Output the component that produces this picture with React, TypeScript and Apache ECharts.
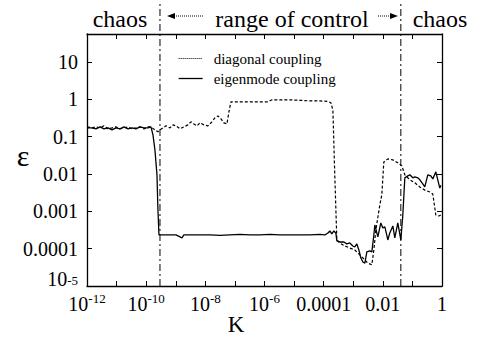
import React, { useEffect, useRef } from "react";
import * as echarts from "echarts";

// K values and epsilon values
const kEigen = [
  1e-12, 1.48e-12, 2.01e-12, 2.75e-12, 3.75e-12, 5.12e-12, 7.0e-12, 9.5e-12, 1.3e-11, 1.78e-11,
  2.43e-11, 3.31e-11, 4.52e-11, 6.18e-11, 8.43e-11, 1.15e-10, 1.45e-10, 1.7e-10, 1.98e-10, 2.32e-10,
  2.5e-10, 2.71e-10, 4.32e-10, 6.37e-10, 1.02e-9, 1.39e-9, 1.62e-9, 1.89e-9, 3.02e-9, 6.57e-9,
  1.43e-8, 3.11e-8, 6.78e-8, 1.48e-7, 3.21e-7, 7.0e-7, 1.52e-6, 3.31e-6, 7.21e-6, 1.57e-5,
  3.42e-5, 7.45e-5, 1.1e-4, 1.39e-4, 1.62e-4, 1.89e-4, 2.21e-4, 2.58e-4, 2.79e-4, 3.52e-4,
  4.81e-4, 6.08e-4, 7.67e-4, 9.69e-4, 1.13e-3, 1.32e-3, 1.55e-3, 1.81e-3, 2.11e-3, 2.47e-3,
  2.88e-3, 3.64e-3, 4.25e-3, 4.97e-3, 5.37e-3, 6.78e-3, 8.55e-3, 1.0e-2, 1.17e-2, 1.48e-2,
  1.72e-2, 2.18e-2, 2.54e-2, 3.21e-2, 4.06e-2, 4.74e-2, 5.54e-2, 7.0e-2, 8.17e-2, 0.103,
  0.121, 0.152, 0.178, 0.224, 0.262, 0.331, 0.419, 0.489, 0.618, 0.721, 0.843, 0.91,
];
const epsEigen = [
  0.172, 0.172, 0.162, 0.183, 0.162, 0.172, 0.152, 0.172, 0.162, 0.183,
  0.162, 0.172, 0.162, 0.183, 0.172, 0.172, 0.183, 0.112, 0.044, 0.0095,
  0.00109, 2.33e-4, 2.33e-4, 2.33e-4, 2.33e-4, 2.06e-4, 1.94e-4, 2.33e-4, 2.33e-4, 2.33e-4,
  2.33e-4, 2.26e-4, 2.33e-4, 2.4e-4, 2.33e-4, 2.33e-4, 2.4e-4, 2.33e-4, 2.33e-4, 2.33e-4,
  2.33e-4, 2.4e-4, 2.33e-4, 2.64e-4, 2.98e-4, 2.48e-4, 2.98e-4, 2.64e-4, 1.61e-4, 1.51e-4,
  1.51e-4, 1.34e-4, 1.42e-4, 1.18e-4, 1.11e-4, 1.34e-4, 9.2e-5, 5.6e-5, 4.4e-5, 4.1e-5,
  8.2e-5, 8.7e-5, 8.2e-5, 2.33e-4, 4.32e-4, 2.06e-4, 4.89e-4, 3.59e-4, 3.82e-4, 1.71e-4,
  2.64e-4, 4.06e-4, 1.94e-4, 4.89e-4, 1.71e-4, 8.0e-4, 0.0079, 0.0089, 0.0095, 0.0079,
  0.0084, 0.0079, 0.007, 0.0054, 0.0045, 0.0095, 0.0089, 0.0074, 0.0114, 0.007, 0.0042, 0.005,
];

const kDiag = [
  1e-12, 1.48e-12, 2.01e-12, 2.75e-12, 3.75e-12, 5.12e-12, 7.0e-12, 9.5e-12, 1.3e-11, 1.78e-11,
  2.43e-11, 3.31e-11, 4.52e-11, 6.18e-11, 8.43e-11, 1.15e-10, 1.45e-10, 1.98e-10, 2.5e-10, 2.93e-10,
  3.7e-10, 4.67e-10, 6.37e-10, 8.04e-10, 1.02e-9, 1.39e-9, 1.89e-9, 2.58e-9, 3.26e-9, 4.12e-9,
  5.2e-9, 6.57e-9, 8.97e-9, 1.22e-8, 1.67e-8, 2.11e-8, 2.67e-8, 3.37e-8, 4.25e-8, 5.37e-8,
  6.27e-8, 7.33e-8, 1.48e-7, 3.21e-7, 7.0e-7, 1.3e-6, 1.78e-6, 3.31e-6, 7.21e-6, 1.57e-5,
  3.42e-5, 7.45e-5, 1.39e-4, 1.75e-4, 2.05e-4, 2.39e-4, 2.79e-4, 3.52e-4, 5.2e-4, 7.67e-4,
  1.13e-3, 1.67e-3, 2.47e-3, 3.11e-3, 4.25e-3, 4.97e-3, 5.81e-3, 7.93e-3, 9.25e-3, 1.08e-2,
  1.48e-2, 2.18e-2, 3.21e-2, 4.39e-2, 5.54e-2, 8.17e-2, 0.121, 0.178, 0.262, 0.387,
  0.489, 0.618, 0.78, 0.91,
];
const epsDiag = [
  0.183, 0.172, 0.183, 0.172, 0.195, 0.162, 0.172, 0.183, 0.162, 0.172,
  0.183, 0.162, 0.172, 0.183, 0.162, 0.183, 0.183, 0.152, 0.135, 0.152,
  0.172, 0.195, 0.172, 0.207, 0.195, 0.162, 0.183, 0.207, 0.25, 0.22,
  0.195, 0.234, 0.207, 0.195, 0.25, 0.32, 0.36, 0.3, 0.234, 0.22,
  0.46, 0.86, 0.86, 0.86, 0.86, 0.86, 0.97, 0.97, 0.97, 0.94,
  0.91, 0.91, 0.88, 0.81, 0.52, 0.0079, 1.71e-4, 1.42e-4, 1.18e-4, 1.04e-4,
  9.2e-5, 6.8e-5, 5.0e-5, 4.1e-5, 3.7e-5, 9.2e-5, 3.17e-4, 1.49e-3, 2.8e-3, 0.0211,
  0.0254, 0.0239, 0.0199, 0.0165, 0.0095, 0.007, 0.0058, 0.0045, 0.0037, 0.0033,
  0.0029, 8.0e-4, 7.5e-4, 8.0e-4,
];

// boundaries of the range of control
const boundaryK = [2.93e-10, 4.06e-2];

// tick labels (log10 value -> label)
const xTickLabels: Record<string, string> = {
  "-12": "{b|10}{s|-12}",
  "-10": "{b|10}{s|-10}",
  "-8": "{b|10}{s|-8}",
  "-6": "{b|10}{s|-6}",
  "-4": "{b|0.0001}",
  "-2": "{b|0.01}",
  "0": "{b|1}",
};
const yTickLabels: Record<string, string> = {
  "1": "{b|10}",
  "0": "{b|1}",
  "-1": "{b|0.1}",
  "-2": "{b|0.01}",
  "-3": "{b|0.001}",
  "-4": "{b|0.0001}",
  "-5": "{lo|10}{los|-5}",
};

const seriesNames = ["diagonal coupling", "eigenmode coupling"];
const titles = ["chaos", "range of control", "chaos"];

const FONT = "Liberation Serif";

const rich = {
  b: { fontFamily: FONT, fontSize: 20, color: "#000", lineHeight: 24 },
  s: { fontFamily: FONT, fontSize: 13, color: "#000", lineHeight: 14, verticalAlign: "top" },
  lo: { fontFamily: FONT, fontSize: 20, color: "#000", lineHeight: 24, padding: [0, 0, 14, 0] },
  los: { fontFamily: FONT, fontSize: 13, color: "#000", lineHeight: 12, verticalAlign: "top" },
};

const toLog = (ks: number[], es: number[]) => ks.map((k, i) => [Math.log10(k), Math.log10(es[i])]);

const css = `#eps-chart svg text, #eps-chart svg tspan { font-family: "Liberation Serif", "Times New Roman", serif !important; }`;

export default function App() {
  const ref = useRef<HTMLDivElement>(null);
  useEffect(() => {
    if (!ref.current) return;
    const chart = echarts.init(ref.current, null, { renderer: "svg" });
    const axisLine = { show: true, onZero: false, lineStyle: { color: "#000", width: 1.3 } };
    const axisTick = { show: true, inside: true, length: 5, lineStyle: { color: "#000", width: 1 } };
    const titleStyle = (text: string) => ({ text, fontFamily: FONT, fontSize: 24, fill: "#000", align: "center", verticalAlign: "middle" });
    const option: any = {
      animation: false,
      grid: { left: 87, right: 39, top: 34, bottom: 52 },
      legend: {
        orient: "vertical",
        left: 173,
        top: 46,
        itemWidth: 24,
        itemHeight: 14,
        itemGap: 5,
        itemStyle: { opacity: 0 },
        textStyle: { fontFamily: FONT, fontSize: 15, color: "#000", padding: [0, 0, 0, 6] },
        data: [
          { name: seriesNames[0], lineStyle: { type: [1, 1], width: 1 } },
          { name: seriesNames[1], lineStyle: { width: 1.3 } },
        ],
      },
      xAxis: [
        {
          type: "value",
          min: -12,
          max: 0,
          interval: 1,
          axisLine,
          axisTick,
          splitLine: { show: false },
          axisLabel: {
            margin: 6,
            fontFamily: FONT,
            formatter: (v: number) => xTickLabels[String(Math.round(v))] || "",
            rich,
          },
        },
        {
          type: "value",
          position: "top",
          min: -12,
          max: 0,
          interval: 1,
          axisLine,
          axisTick,
          splitLine: { show: false },
          axisLabel: { show: false },
        },
      ],
      yAxis: [
        {
          type: "value",
          position: "left",
          min: -5,
          max: 1.75,
          interval: 1,
          axisLine,
          axisTick,
          splitLine: { show: false },
          axisLabel: {
            margin: 9,
            fontFamily: FONT,
            showMaxLabel: false,
            formatter: (v: number) => (Number.isInteger(v) ? yTickLabels[String(v)] || "" : ""),
            rich,
          },
        },
        {
          type: "value",
          position: "right",
          min: -5,
          max: 1.75,
          interval: 1,
          axisLine,
          axisTick,
          splitLine: { show: false },
          axisLabel: { show: false },
        },
      ],
      series: [
        {
          name: seriesNames[0],
          type: "line",
          data: toLog(kDiag, epsDiag),
          symbol: "none",
          lineStyle: { color: "#000", width: 1.2, type: [3, 2] },
          itemStyle: { color: "#000" },
          z: 3,
        },
        {
          name: seriesNames[1],
          type: "line",
          data: toLog(kEigen, epsEigen),
          symbol: "none",
          lineStyle: { color: "#000", width: 1.3, type: "solid" },
          itemStyle: { color: "#000" },
          z: 4,
        },
        {
          name: "boundaries",
          type: "custom",
          silent: true,
          clip: false,
          data: boundaryK.map((k) => [Math.log10(k), -5]),
          renderItem: (params: any, api: any) => {
            const bottom = api.coord([api.value(0), -5]);
            const top = api.coord([api.value(0), 1.75]);
            return {
              type: "line",
              shape: { x1: bottom[0], y1: bottom[1], x2: bottom[0], y2: top[1] - 31 },
              style: { stroke: "#000", lineWidth: 1, lineDash: [7, 3, 2, 3] },
            };
          },
          z: 5,
        },
      ],
      graphic: [
        { type: "text", x: 120, y: 19, style: titleStyle(titles[0]) },
        { type: "text", x: 292, y: 19, style: titleStyle(titles[1]) },
        { type: "text", x: 440, y: 19, style: titleStyle(titles[2]) },
        { type: "polyline", shape: { points: [[174, 16], [204, 16]] }, style: { stroke: "#000", lineWidth: 1, lineDash: [1, 1] } },
        { type: "polygon", shape: { points: [[167, 16], [175, 13], [175, 19]] }, style: { fill: "#000" } },
        { type: "polyline", shape: { points: [[378, 16], [391, 16]] }, style: { stroke: "#000", lineWidth: 1, lineDash: [1, 1] } },
        { type: "polygon", shape: { points: [[398, 16], [390, 13], [390, 19]] }, style: { fill: "#000" } },
        { type: "text", x: 23, y: 155, style: { text: "ε", fontFamily: FONT, fontSize: 30, fill: "#000", align: "center", verticalAlign: "middle" } },
        { type: "text", x: 236, y: 324, style: { text: "K", fontFamily: FONT, fontSize: 23, fill: "#000", align: "center", verticalAlign: "middle" } },
      ],
    };
    chart.setOption(option);
    return () => chart.dispose();
  }, []);
  return (
    <>
      <style>{css}</style>
      <div id="eps-chart" ref={ref} style={{ width: 481, height: 338, position: "absolute", left: 0, top: 0 }} />
    </>
  );
}
